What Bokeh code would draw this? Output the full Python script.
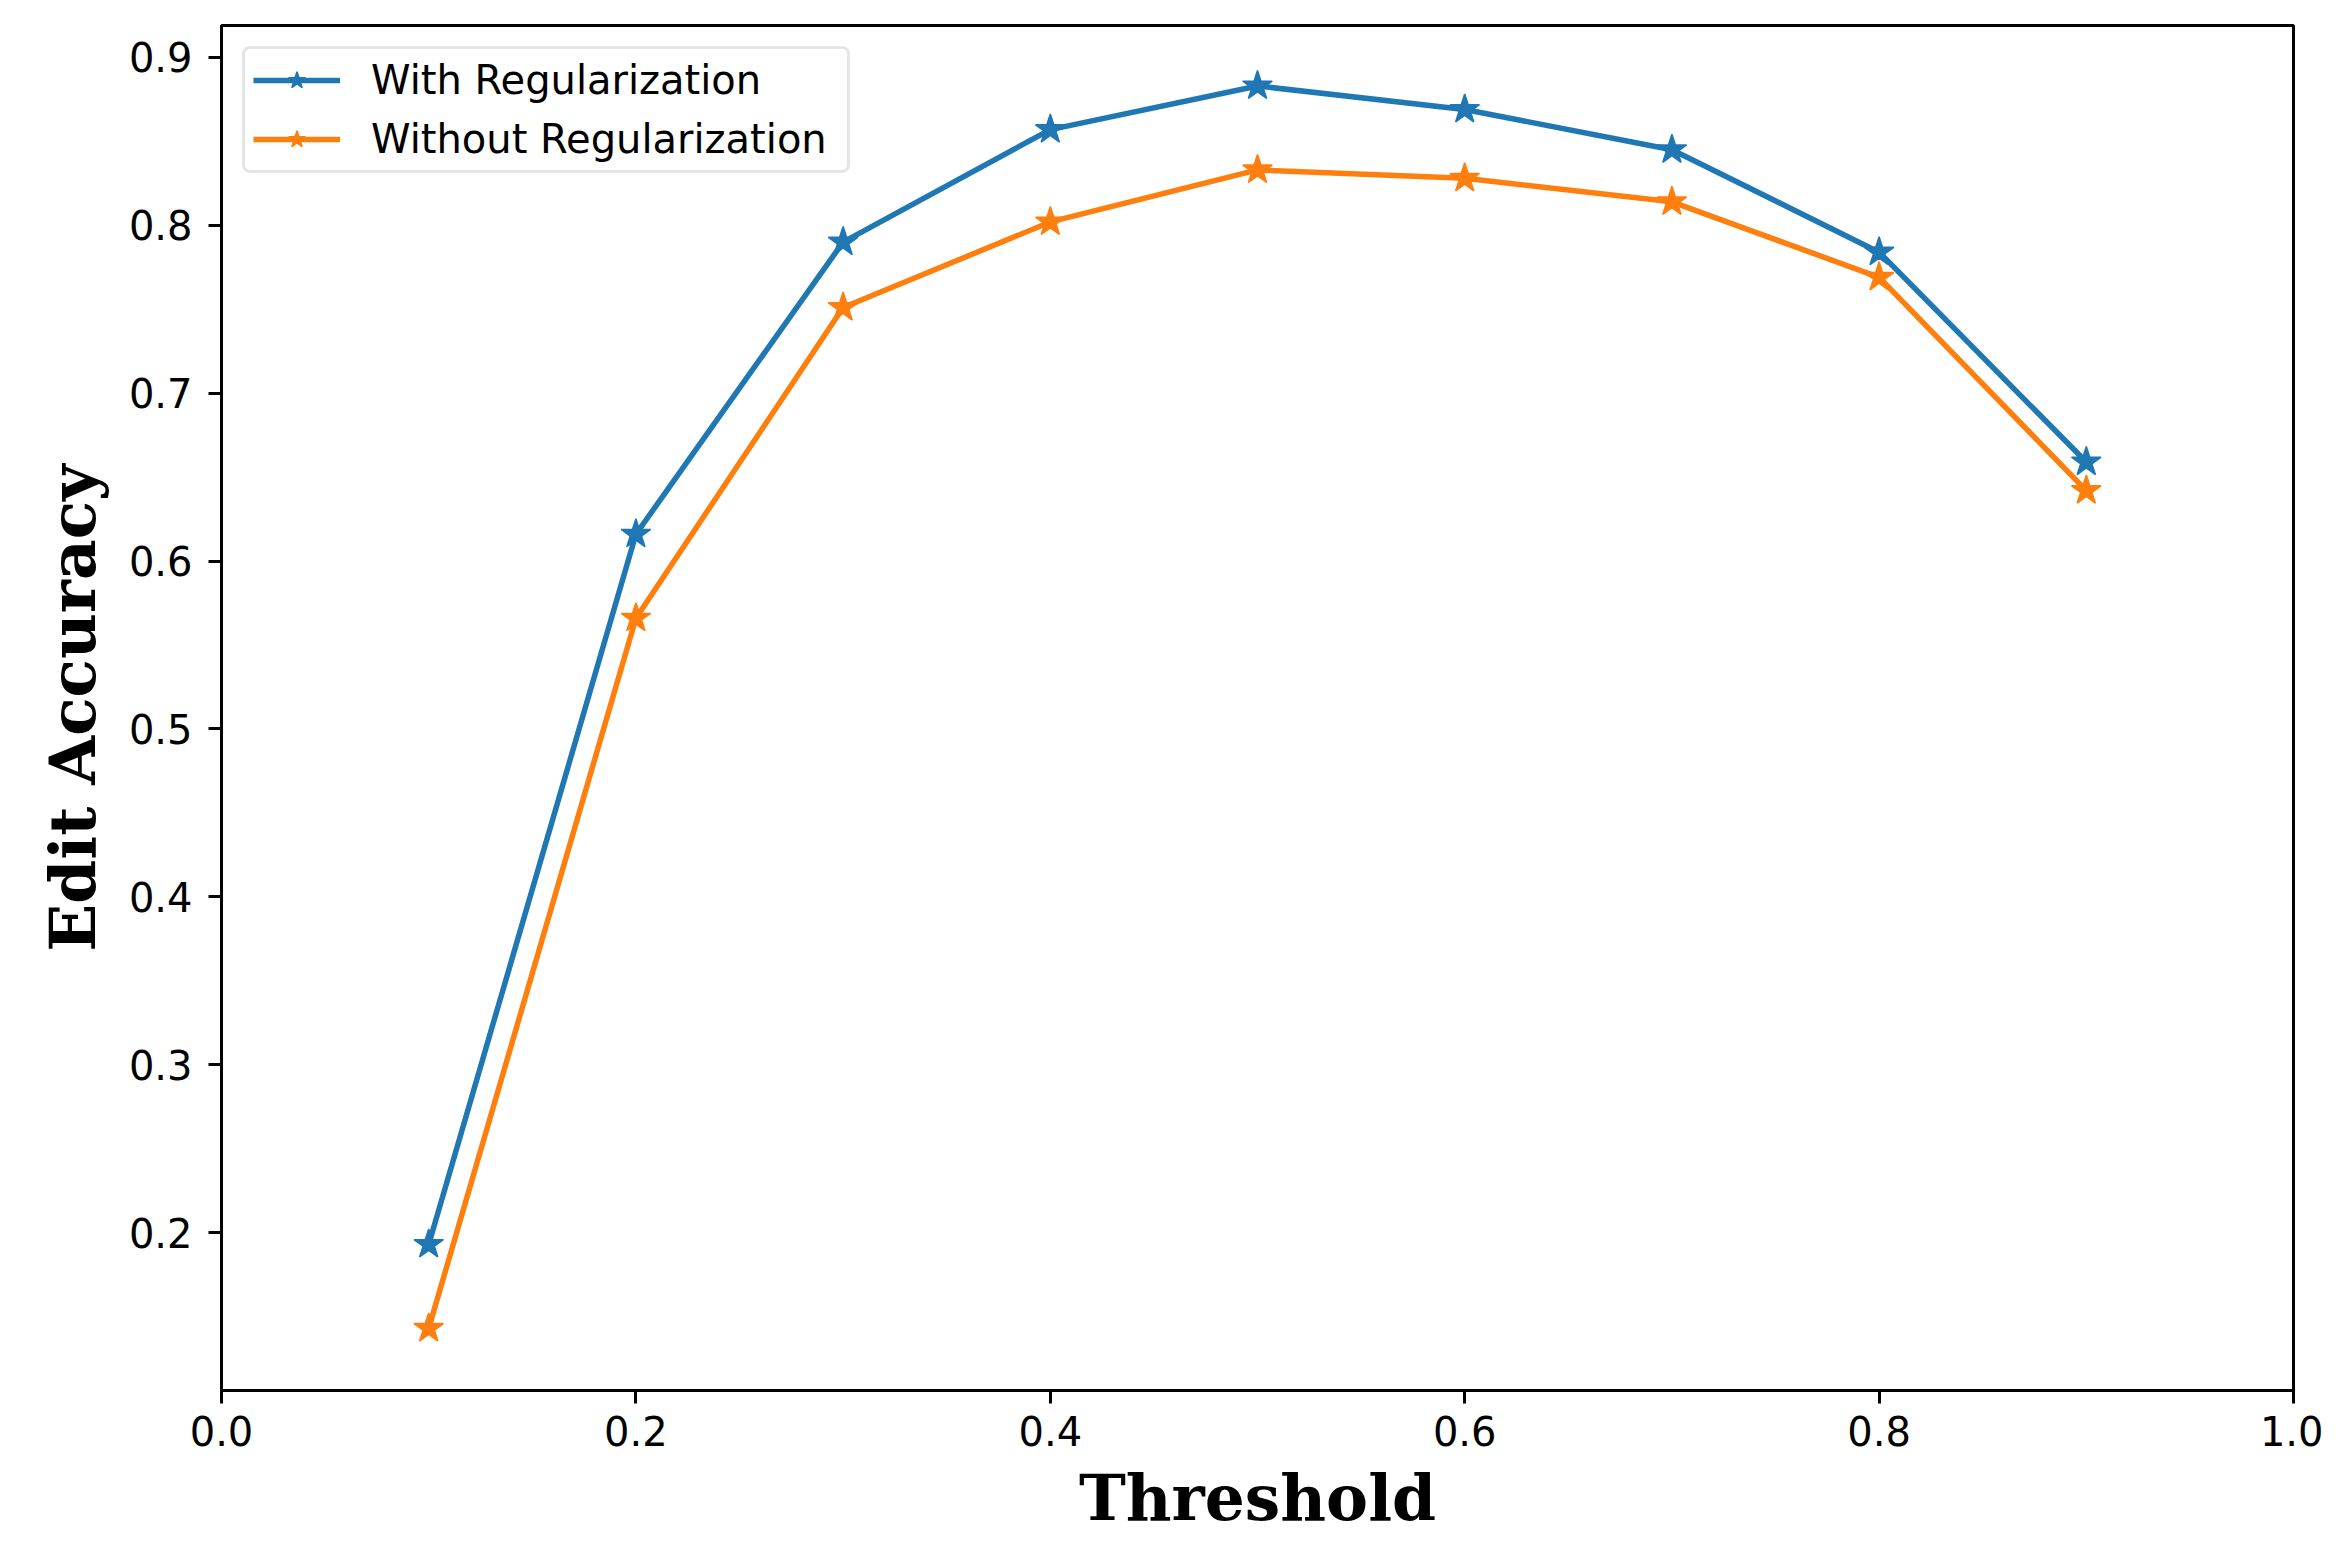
from bokeh.plotting import figure
from bokeh.models import Range1d, FixedTicker, PrintfTickFormatter
from bokeh.embed import file_html
from bokeh.resources import INLINE

thresholds = [0.1, 0.2, 0.3, 0.4, 0.5, 0.6, 0.7, 0.8, 0.9]
with_reg = [0.193, 0.616, 0.790, 0.857, 0.883, 0.869, 0.845, 0.784, 0.659]
without_reg = [0.143, 0.566, 0.751, 0.802, 0.833, 0.828, 0.814, 0.769, 0.642]
x_ticks = [0.0, 0.2, 0.4, 0.6, 0.8, 1.0]
y_ticks = [0.2, 0.3, 0.4, 0.5, 0.6, 0.7, 0.8, 0.9]

BLUE = "#1f77b4"
ORANGE = "#ff7f0e"

p = figure(width=2323, height=1537, output_backend="svg", toolbar_location=None,
           x_range=Range1d(0.0, 1.0), y_range=Range1d(0.106, 0.919),
           min_border_left=221, min_border_right=30, min_border_top=25, min_border_bottom=145)

p.xgrid.visible = False
p.ygrid.visible = False
p.outline_line_color = "black"
p.outline_line_width = 3
p.outline_line_alpha = 1.0

for series, color, label in [(with_reg, BLUE, "With Regularization"),
                             (without_reg, ORANGE, "Without Regularization")]:
    p.line(thresholds, series, line_color=color, line_width=5.5, legend_label=label)
    p.scatter(thresholds, series, marker="star", size=31, fill_color=color,
              line_color=color, line_width=1.5, legend_label=label)

p.xaxis.ticker = FixedTicker(ticks=x_ticks)
p.yaxis.ticker = FixedTicker(ticks=y_ticks)
p.xaxis.formatter = PrintfTickFormatter(format="%.1f")
p.yaxis.formatter = PrintfTickFormatter(format="%.1f")
for ax in (p.xaxis[0], p.yaxis[0]):
    ax.major_label_text_font = "DejaVu Sans"
    ax.major_label_text_font_size = "40px"
    ax.major_label_text_color = "black"
    ax.axis_line_width = 3
    ax.major_tick_line_width = 3
    ax.major_tick_out = 13
    ax.major_tick_in = 0
    ax.minor_tick_out = 0
    ax.minor_tick_in = 0
    ax.axis_label_text_font = "DejaVu Serif"
    ax.axis_label_text_font_style = "bold"
    ax.axis_label_text_font_size = "63px"
    ax.axis_label_text_color = "black"

p.xaxis.axis_label = "Threshold"
p.yaxis.axis_label = "Edit Accuracy"
p.xaxis.major_label_standoff = 12
p.yaxis.major_label_standoff = 16
p.xaxis.axis_label_standoff = 12
p.yaxis.axis_label_standoff = 16

lg = p.legend[0]
lg.location = "top_left"
lg.margin = 21
lg.padding = 8
lg.spacing = 13
lg.glyph_width = 87
lg.glyph_height = 44
lg.label_height = 44
lg.label_width = 468
lg.label_standoff = 31
lg.label_text_font = "DejaVu Sans"
lg.label_text_font_size = "40px"
lg.label_text_color = "black"
lg.border_line_color = "#cccccc"
lg.border_line_width = 3
lg.border_radius = 8
lg.background_fill_color = "white"
lg.background_fill_alpha = 0.8

open("out.html", "w").write(file_html(p, INLINE))
